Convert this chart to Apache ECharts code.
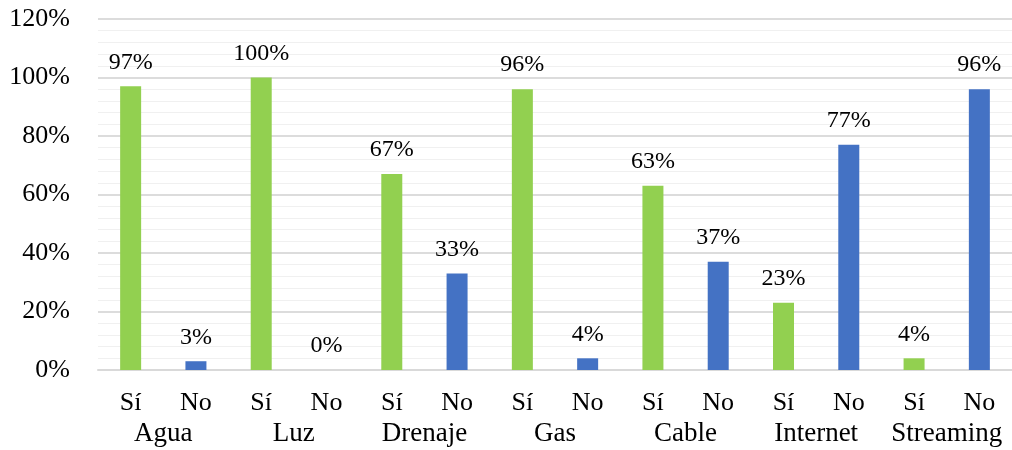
<!DOCTYPE html>
<html>
<head>
<meta charset="utf-8">
<script src="https://cdn.jsdelivr.net/npm/echarts@6/dist/echarts.min.js"></script>
<style>
  html, body { margin: 0; padding: 0; background: #ffffff; }
  #chart { width: 1012px; height: 450px; }
</style>
</head>
<body>
<div id="chart"></div>
<script>
// Servicios en la vivienda: respuestas Sí / No por servicio (%)
const groups = ['Agua', 'Luz', 'Drenaje', 'Gas', 'Cable', 'Internet', 'Streaming'];
const answers = ['Sí', 'No'];
const siValues = [97, 100, 67, 96, 63, 23, 4];
const noValues = [3, 0, 33, 4, 37, 77, 96];
const yTicks = [0, 20, 40, 60, 80, 100, 120];

const SERIF = '"Liberation Serif", "Times New Roman", serif';
const answerColors = { 'Sí': '#92D050', 'No': '#4472C4' };

// one category per answer, grouped by service
const answerLabels = [];
const barData = [];
groups.forEach((g, i) => {
  answers.forEach(a => {
    answerLabels.push(a);
    const v = a === 'Sí' ? siValues[i] : noValues[i];
    barData.push({ value: v, itemStyle: { color: answerColors[a] } });
  });
});

const chart = echarts.init(document.getElementById('chart'), null, { renderer: 'canvas' });
chart.setOption({
  animation: false,
  backgroundColor: '#ffffff',
  grid: { left: 98, top: 19, width: 917, height: 351, containLabel: false },
  xAxis: [
    {
      type: 'category',
      data: answerLabels,
      axisLine: { show: true, lineStyle: { color: '#d9d9d9', width: 2 } },
      axisTick: { show: false },
      axisLabel: { color: '#000', fontFamily: SERIF, fontSize: 26, margin: 20, interval: 0 }
    },
    {
      type: 'category',
      data: groups,
      position: 'bottom',
      axisLine: { show: false },
      axisTick: { show: false },
      splitLine: { show: false },
      axisLabel: { color: '#000', fontFamily: SERIF, fontSize: 27, margin: 50, interval: 0 }
    }
  ],
  yAxis: {
    type: 'value',
    min: yTicks[0],
    max: yTicks[yTicks.length - 1],
    interval: 20,
    axisLine: { show: false },
    axisTick: { show: false },
    axisLabel: { color: '#000', fontFamily: SERIF, fontSize: 26, margin: 28, formatter: '{value}%' },
    splitLine: { show: true, lineStyle: { color: '#dcdcdc', width: 2 } },
    minorTick: { show: false, splitNumber: 5 },
    minorSplitLine: { show: true, lineStyle: { color: '#f0f0f0', width: 1 } }
  },
  series: [
    {
      type: 'bar',
      xAxisIndex: 0,
      data: barData,
      barWidth: 21,
      label: {
        show: true,
        position: 'top',
        distance: 12,
        color: '#000',
        fontFamily: SERIF,
        fontSize: 24,
        formatter: '{c}%'
      }
    }
  ]
});
</script>
</body>
</html>
